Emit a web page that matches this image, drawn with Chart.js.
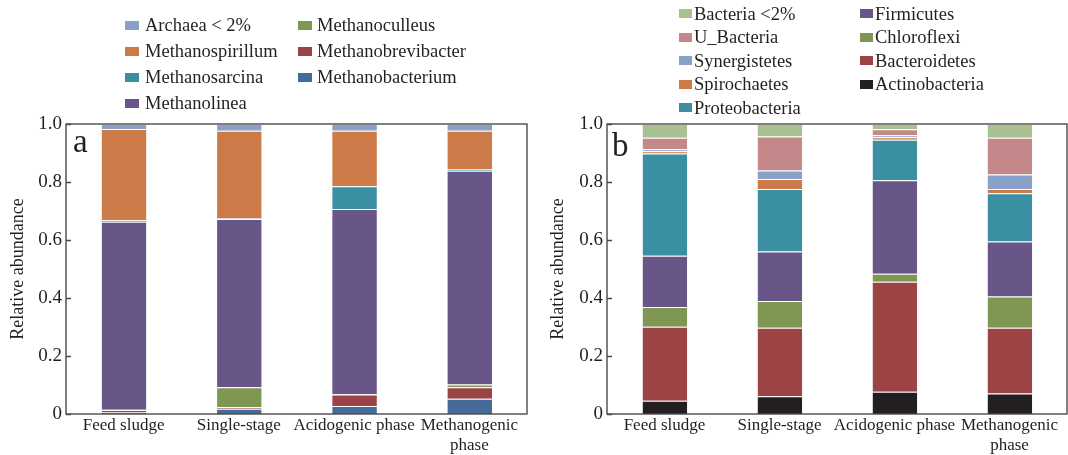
<!DOCTYPE html>
<html>
<head>
<meta charset="utf-8">
<script src="https://cdn.jsdelivr.net/npm/chart.js@4.4.1/dist/chart.umd.min.js"></script>
<style>
  html, body { margin: 0; padding: 0; background: #fff; }
  #wrap { position: relative; width: 1068px; height: 455px; overflow: hidden;
          font-family: "Liberation Serif", "Times New Roman", serif; color: #231f20; }
  .box { position: absolute; top: 0; height: 455px; }
  .box canvas { display: block; }
  .leg { position: absolute; height: 22px; line-height: 22px; font-size: 18.5px; white-space: nowrap; }
  .leg i { position: absolute; top: 6.5px; height: 9px; }
  .tag { position: absolute; font-size: 33px; line-height: 1; }
</style>
</head>
<body>
<div id="wrap">
  <div class="box" style="left:0;width:535px"><canvas id="c-a" width="535" height="455"></canvas></div>
  <div class="box" style="left:535px;width:533px"><canvas id="c-b" width="533" height="455"></canvas></div>
  <div class="tag" style="left:73px;top:125px">a</div>
  <div class="tag" style="left:612px;top:129px">b</div>
</div>
<script>
// === DATA ===
const CATS = ['Feed sludge', 'Single-stage', 'Acidogenic phase', ['Methanogenic', 'phase']];
const Y_TICKS = [0, 0.2, 0.4, 0.6, 0.8, 1.0];

// archaea, stacked bottom -> top
const methanobacterium   = [0.005, 0.018, 0.028, 0.053];
const methanobrevibacter = [0.009, 0.006, 0.039, 0.039];
const methanoculleus     = [0.001, 0.068, 0.001, 0.010];
const methanolinea       = [0.648, 0.580, 0.639, 0.737];
const methanosarcina     = [0.005, 0.002, 0.078, 0.004];
const methanospirillum   = [0.315, 0.303, 0.192, 0.134];
const archaeaOther       = [0.017, 0.023, 0.023, 0.023];

// bacteria, stacked bottom -> top
const actinobacteria = [0.046, 0.061, 0.077, 0.071];
const bacteroidetes  = [0.255, 0.236, 0.379, 0.226];
const chloroflexi    = [0.068, 0.093, 0.028, 0.108];
const firmicutes     = [0.177, 0.170, 0.322, 0.190];
const proteobacteria = [0.352, 0.216, 0.140, 0.166];
const spirochaetes   = [0.008, 0.034, 0.008, 0.015];
const synergistetes  = [0.007, 0.030, 0.007, 0.050];
const uBacteria      = [0.040, 0.117, 0.021, 0.127];
const bacteriaOther  = [0.047, 0.043, 0.018, 0.047];

// === COLORS ===
const C = {
    lblue: '#89a1c8', orange: '#cc7a47', teal: '#3a8fa2', purple: '#685689',
    green: '#7f9752', red: '#9c4345', blue: '#456c99',
    lgreen: '#a9c191', pink: '#c4888b', black: '#231f20',
    text: '#231f20', frame: '#4a4a4a'
};
const FONT = '"Liberation Serif", "Times New Roman", serif';

const archaeaSets = [
    { label: 'Methanobacterium', data: methanobacterium, backgroundColor: C.blue },
    { label: 'Methanobrevibacter', data: methanobrevibacter, backgroundColor: C.red },
    { label: 'Methanoculleus', data: methanoculleus, backgroundColor: C.green },
    { label: 'Methanolinea', data: methanolinea, backgroundColor: C.purple },
    { label: 'Methanosarcina', data: methanosarcina, backgroundColor: C.teal },
    { label: 'Methanospirillum', data: methanospirillum, backgroundColor: C.orange },
    { label: 'Archaea < 2%', data: archaeaOther, backgroundColor: C.lblue }
];

const bacteriaSets = [
    { label: 'Actinobacteria', data: actinobacteria, backgroundColor: C.black },
    { label: 'Bacteroidetes', data: bacteroidetes, backgroundColor: C.red },
    { label: 'Chloroflexi', data: chloroflexi, backgroundColor: C.green },
    { label: 'Firmicutes', data: firmicutes, backgroundColor: C.purple },
    { label: 'Proteobacteria', data: proteobacteria, backgroundColor: C.teal },
    { label: 'Spirochaetes', data: spirochaetes, backgroundColor: C.orange },
    { label: 'Synergistetes', data: synergistetes, backgroundColor: C.lblue },
    { label: 'U_Bacteria', data: uBacteria, backgroundColor: C.pink },
    { label: 'Bacteria <2%', data: bacteriaOther, backgroundColor: C.lgreen }
];

// === FRAME + INWARD TICKS ===
const framePlugin = {
    id: 'frame',
    afterDraw(chart) {
        const { ctx, chartArea: a, scales: { y } } = chart;
        ctx.save();
        ctx.strokeStyle = C.frame;
        ctx.lineWidth = 1.4;
        ctx.strokeRect(a.left, a.top, a.right - a.left, a.bottom - a.top);
        ctx.beginPath();
        Y_TICKS.forEach(v => {
            const py = Math.round(y.getPixelForValue(v)) + 0.5;
            ctx.moveTo(a.left, py);
            ctx.lineTo(a.left + 5, py);
        });
        ctx.stroke();
        ctx.restore();
    }
};

// === CHART ===
function mkChart(id, datasets, axisW, titlePad, padRight) {
    new Chart(document.getElementById(id), {
        type: 'bar',
        data: {
            labels: CATS,
            datasets: datasets.map(d => ({
                ...d,
                borderColor: 'rgba(255,255,255,0.45)',
                borderWidth: { top: 1, left: 1, right: 0, bottom: 0 },
                borderSkipped: false
            }))
        },
        options: {
            responsive: false,
            animation: false,
            layout: { padding: { top: 124, right: padRight, bottom: 0, left: 0 } },
            datasets: { bar: { categoryPercentage: 1, barPercentage: 0.395 } },
            plugins: { legend: { display: false }, tooltip: { enabled: false } },
            scales: {
                x: {
                    stacked: true,
                    grid: { display: false, drawTicks: false },
                    border: { display: false },
                    ticks: { color: C.text, font: { family: FONT, size: 17, lineHeight: 1.2 }, padding: 1, maxRotation: 0, autoSkip: false },
                    afterFit: s => { s.height = 41; }
                },
                y: {
                    stacked: true,
                    min: 0, max: 1,
                    afterBuildTicks: s => { s.ticks = Y_TICKS.map(v => ({ value: v })); },
                    ticks: { color: C.text, font: { family: FONT, size: 19 }, padding: 4,
                             callback: v => v === 0 ? '0' : v.toFixed(1) },
                    grid: { display: false, drawTicks: false },
                    border: { display: false },
                    title: { display: true, text: 'Relative abundance', color: C.text,
                             font: { family: FONT, size: 18, lineHeight: 1.2 }, padding: { top: titlePad, bottom: 0 } },
                    afterFit: s => { s.width = axisW; }
                }
            }
        },
        plugins: [framePlugin]
    });
}

// === HTML LEGEND (column-major, top of stack first) ===
function mkLegend(datasets, sqX, txtX, row0, gap, sqW) {
    const wrap = document.getElementById('wrap');
    const items = datasets.slice().reverse();
    const rows = Math.ceil(items.length / 2);
    items.forEach((d, i) => {
        const col = Math.floor(i / rows), row = i % rows;
        const el = document.createElement('div');
        el.className = 'leg';
        el.style.left = txtX[col] + 'px';
        el.style.top = (row0 + row * gap - 11) + 'px';
        el.textContent = d.label;
        const sq = document.createElement('i');
        sq.style.left = (sqX[col] - txtX[col]) + 'px';
        sq.style.width = sqW + 'px';
        sq.style.background = d.backgroundColor;
        el.appendChild(sq);
        wrap.appendChild(el);
    });
}

mkChart('c-a', archaeaSets, 66, 7, 8);
mkChart('c-b', bacteriaSets, 72, 12, 1);
mkLegend(archaeaSets, [125, 298], [145, 317], 25, 26, 14);
mkLegend(bacteriaSets, [679, 860], [694, 875], 13.5, 23.5, 13);
</script>
</body>
</html>
